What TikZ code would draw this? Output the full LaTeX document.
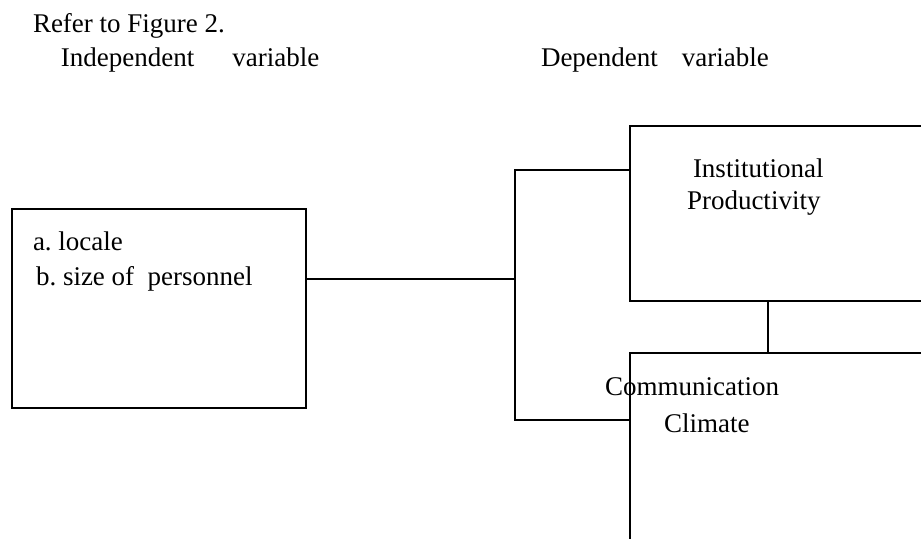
\documentclass[tikz,border=0pt]{standalone}
\usepackage{fontspec}
\setmainfont{Liberation Serif}
\usetikzlibrary{positioning}
\frenchspacing

\begin{document}
\begin{tikzpicture}[x=0.5pt,y=-0.5pt,line width=1pt,
    font=\fontsize{13.5pt}{16pt}\selectfont,
    varbox/.style={draw, inner sep=0pt, rectangle},
    label/.style={inner sep=0pt, anchor=base west}
    ]
\edef\bx{515}
\edef\lx{768}

\useasboundingbox (0,0) rectangle (921,538);
\clip (0,0) rectangle (921,538);

\node[label] (refer) at (32,32) {Refer to Figure 2.};
\node[label] (indep) at (60,66) {Independent\hspace{19pt}variable};
\node[label] (dep) at (540,66) {Dependent\hspace{12pt}variable};

\node[varbox, minimum width=147pt, minimum height=99.5pt] (locbox) at (159,308.5) {};
\node[varbox, minimum width=185pt, minimum height=87.5pt] (prodbox) at (815,213.5) {};
\node[varbox, minimum width=185pt, minimum height=123.5pt] (climbox) at (815,476.5) {};

\node[label] (locale) at (32,250) {a. locale};
\node[label] (size) at (35,285) {b. size of\ \ personnel};
\node[label] (inst) at (692,177) {Institutional};
\node[label] (prod) at (686,209) {Productivity};
\node[label] (comm) at (604,395) {Communication};
\node[label] (clim) at (663,432) {Climate};

\coordinate (brtop) at (\bx,170);
\coordinate (brbot) at (\bx,420);
\coordinate (link) at (\lx,0);

\draw (locbox.east |- 0,279) -- (brtop |- 0,279);
\draw (brtop -| prodbox.west) -- (brtop) -- (brbot) -- (brbot -| climbox.west);
\draw (link |- prodbox.south) -- (link |- climbox.north);
\end{tikzpicture}
\end{document}
